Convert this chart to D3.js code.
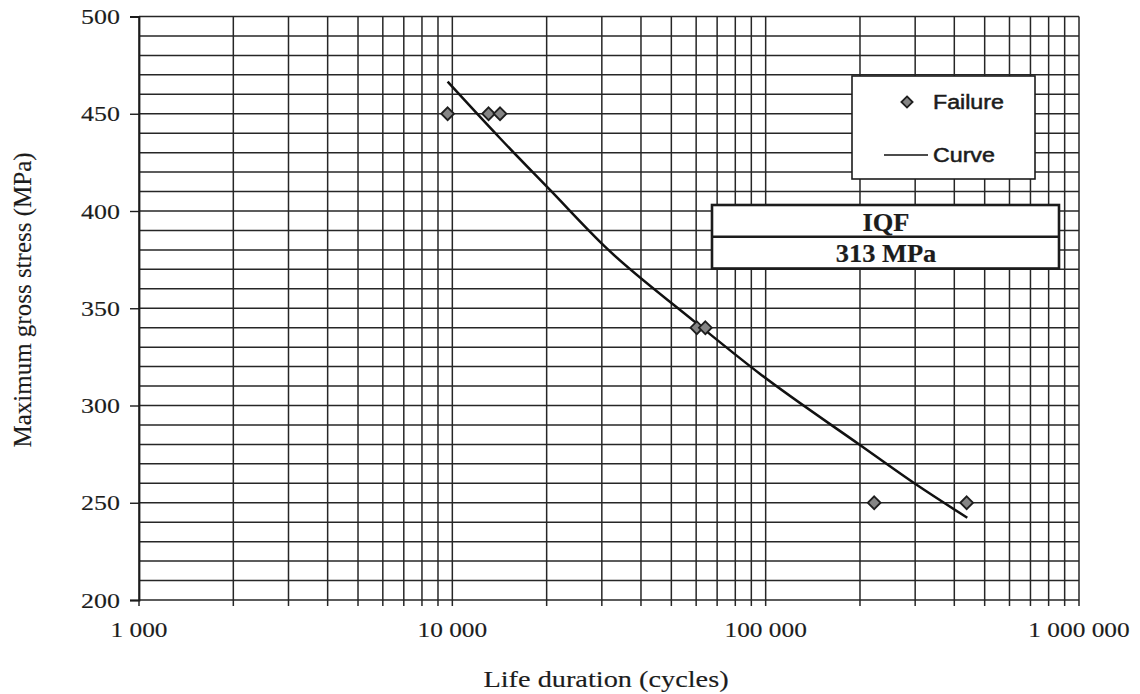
<!DOCTYPE html>
<html>
<head>
<meta charset="utf-8">
<script src="https://cdn.jsdelivr.net/npm/d3@7/dist/d3.min.js"></script>
<style>
  body { margin: 0; background: #fff; }
  svg { display: block; }
</style>
</head>
<body>
<svg id="chart" width="1140" height="694"></svg>
<script>
// Fatigue test results: cycles to failure at each maximum gross stress level
const failureCycles = [9660, 13050, 14200, 60300, 64200, 222000, 438000];
const failureStress = [450, 450, 450, 340, 340, 250, 250];

// Fitted S-N curve, sampled along its length
const curveCycles = [9660, 14200, 20500, 31000, 57400, 96000, 200000, 304000, 440000];
const curveStress = [466.5, 437.4, 410.8, 381.0, 345.0, 316.2, 279.7, 259.1, 242.3];

// Axis ticks and labels
const xTickValues = [1000, 10000, 100000, 1000000];
const xTickLabels = ["1 000", "10 000", "100 000", "1 000 000"];
const yTickValues = [200, 250, 300, 350, 400, 450, 500];
const yTickLabels = ["200", "250", "300", "350", "400", "450", "500"];

// Legend entries and the IQF annotation
const legendLabels = ["Failure", "Curve"];
const iqfLines = ["IQF", "313 MPa"];

const svg = d3.select("#chart");
svg.append("rect").attr("width", 1140).attr("height", 694).attr("fill", "#fff");

const plotLeft = 139, plotRight = 1079, plotTop = 16.5, plotBottom = 600;
const x = d3.scaleLog().domain([1000, 1000000]).range([plotLeft, plotRight]);
const y = d3.scaleLinear().domain([200, 500]).range([plotBottom, plotTop]);

const SX = 1.18; // horizontal stretch of the lettering
const serif = "'Liberation Serif', 'Times New Roman', serif";
const sans = "'Liberation Sans', Arial, sans-serif";
const ink = "#1c1c1c";

function label(g, px, py, str, o) {
  return g.append("text")
    .attr("transform", `translate(${px},${py}) scale(${o.sx ?? SX},1)`)
    .attr("text-anchor", o.anchor || "start")
    .attr("font-family", o.family || serif)
    .attr("font-size", o.size)
    .attr("font-weight", o.weight || "normal")
    .attr("fill", ink)
    .attr("stroke", ink)
    .attr("stroke-width", o.heavy ?? 0.15)
    .text(str);
}

// Grid: every 10 MPa horizontally, every 1..9 x 10^n vertically
const grid = svg.append("g").attr("stroke", "#262626").attr("stroke-width", 1.5).attr("fill", "none");
d3.range(200, 501, 10).forEach(v => {
  grid.append("line").attr("x1", plotLeft).attr("x2", plotRight).attr("y1", y(v)).attr("y2", y(v));
});
x.ticks().forEach(v => {
  grid.append("line").attr("x1", x(v)).attr("x2", x(v)).attr("y1", plotTop).attr("y2", plotBottom + 6);
});

// Y axis ticks and labels
const yAxis = svg.append("g").attr("transform", `translate(${plotLeft},0)`)
  .call(d3.axisLeft(y).tickValues(yTickValues).tickFormat("").tickSize(9));
yAxis.select(".domain").attr("stroke", ink).attr("stroke-width", 1.8);
yAxis.selectAll(".tick line").attr("stroke", ink).attr("stroke-width", 1.4);
yTickValues.forEach((v, i) => {
  label(svg, 120, y(v) + 7.5, yTickLabels[i], { anchor: "end", size: 22 });
});

// X axis labels
xTickValues.forEach((v, i) => {
  label(svg, x(v), 637, xTickLabels[i], { anchor: "middle", size: 21.5 });
});

// Axis titles
label(svg, 606, 687, "Life duration (cycles)", { anchor: "middle", size: 24 });
svg.append("text")
  .attr("transform", `translate(31,300) rotate(-90)`)
  .attr("text-anchor", "middle")
  .attr("font-family", serif)
  .attr("font-size", 25)
  .attr("fill", ink).attr("stroke", ink).attr("stroke-width", 0.15)
  .text("Maximum gross stress (MPa)");

// Fitted curve
const curvePts = curveCycles.map((c, i) => [x(c), y(curveStress[i])]);
svg.append("path")
  .attr("d", d3.line().curve(d3.curveMonotoneX)(curvePts))
  .attr("fill", "none").attr("stroke", "#111").attr("stroke-width", 2.5);

// Failure markers
const diamond = d3.symbol().type(d3.symbolDiamond2).size(105);
svg.append("g").selectAll("path")
  .data(failureCycles.map((c, i) => [c, failureStress[i]]))
  .join("path")
  .attr("transform", d => `translate(${x(d[0])},${y(d[1])})`)
  .attr("d", diamond)
  .attr("fill", "#858585").attr("stroke", "#1e1e1e").attr("stroke-width", 1.8);

// Legend
const lg = svg.append("g");
lg.append("rect").attr("x", 852).attr("y", 76).attr("width", 183).attr("height", 103)
  .attr("fill", "#fff").attr("stroke", ink).attr("stroke-width", 1.6);
lg.append("path").attr("transform", "translate(907,102)").attr("d", d3.symbol().type(d3.symbolDiamond2).size(80))
  .attr("fill", "#858585").attr("stroke", "#1e1e1e").attr("stroke-width", 1.8);
label(lg, 933, 109, legendLabels[0], { size: 19.5, family: sans, sx: 1.19, heavy: 0.5 });
lg.append("line").attr("x1", 884).attr("x2", 928).attr("y1", 155).attr("y2", 155)
  .attr("stroke", "#111").attr("stroke-width", 1.6);
label(lg, 933, 162, legendLabels[1], { size: 19.5, family: sans, sx: 1.19, heavy: 0.5 });

// IQF annotation box
const ib = svg.append("g");
ib.append("rect").attr("x", 712).attr("y", 205).attr("width", 347).attr("height", 63.5)
  .attr("fill", "#fff").attr("stroke", ink).attr("stroke-width", 2.6);
ib.append("line").attr("x1", 712).attr("x2", 1059).attr("y1", 236.7).attr("y2", 236.7)
  .attr("stroke", ink).attr("stroke-width", 2.6);
label(ib, 886, 230.5, iqfLines[0], { anchor: "middle", size: 24.5, weight: "bold", sx: 1.08, heavy: 0.2 });
label(ib, 886, 262, iqfLines[1], { anchor: "middle", size: 24.5, weight: "bold", sx: 1.08, heavy: 0.2 });
</script>
</body>
</html>
